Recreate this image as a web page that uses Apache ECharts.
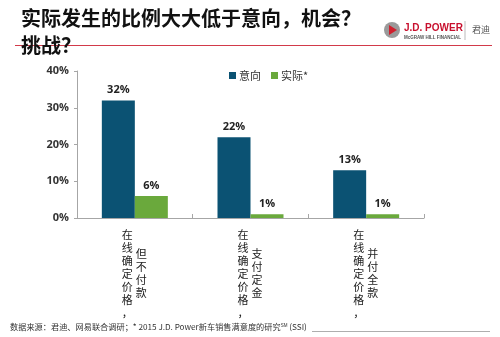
<!DOCTYPE html>
<html><head><meta charset="utf-8">
<script src="https://cdn.jsdelivr.net/npm/echarts@6/dist/echarts.min.js"></script>
<style>html,body{margin:0;padding:0;background:#fff}#c{width:500px;height:337px}</style>
</head><body><div id="c"></div>
<script>
const catCol1 = ['在线确定价格，', '在线确定价格，', '在线确定价格，'];
const catCol2 = ['但不付款', '支付定金', '并付全款'];
const intent = [32, 22, 13];
const actual = [6, 1, 1];
const seriesNames = ['意向', '实际*'];
const yTicks = [0, 10, 20, 30, 40];
const titleText = '实际发生的比例大大低于意向，机会？\n挑战？';
const sourceText = '数据来源：君迪、网易联合调研；* 2015 J.D. Power新车销售满意度的研究';

const vert = s => s.split('').join('\n');
const chart = echarts.init(document.getElementById('c'), null, {renderer: 'canvas'});
const CJK = '"Noto Sans CJK SC", sans-serif';
const base = {
  type: 'category', data: catCol1.map((_, i) => i),
  axisTick: {show: false}, axisLine: {show: false}, position: 'bottom'
};
chart.setOption({
  animation: false,
  title: {
    text: titleText, left: 16, top: 0,
    textStyle: {fontFamily: CJK, fontSize: 20, fontWeight: 'bold', color: '#111', lineHeight: 27}
  },
  legend: {
    data: seriesNames, left: 224, top: 65, itemWidth: 7, itemHeight: 7, itemGap: 10,
    icon: 'rect',
    textStyle: {fontFamily: CJK, fontSize: 11, color: '#333', padding: [0, 0, 0, -2]}
  },
  grid: {left: 77, right: 76, top: 71, bottom: 119},
  xAxis: [
    {type: 'category', data: catCol1, position: 'bottom',
      axisLine: {lineStyle: {color: '#a6a6a6', width: 1}},
      axisTick: {show: true, length: 4, inside: true, lineStyle: {color: '#a6a6a6'}},
      axisLabel: {formatter: v => vert(v), fontFamily: CJK, fontSize: 11, color: '#222',
        lineHeight: 13, margin: 10, padding: [0, 15, 0, 0]}},
    Object.assign({}, base, {data: catCol2,
      axisLabel: {formatter: v => vert(v), fontFamily: CJK, fontSize: 11, color: '#222',
        lineHeight: 13, margin: 29, padding: [0, 0, 0, 13]}})
  ],
  yAxis: {
    type: 'value', min: yTicks[0], max: yTicks[yTicks.length - 1], interval: 10,
    splitLine: {show: false},
    axisLine: {show: true, lineStyle: {color: '#a6a6a6'}},
    axisTick: {show: true, length: 3, lineStyle: {color: '#a6a6a6'}},
    axisLabel: {formatter: '{value}%', fontFamily: '"Open Sans", sans-serif', fontSize: 11,
      fontWeight: 'bold', color: '#333', margin: 8}
  },
  series: [
    {name: seriesNames[0], type: 'bar', data: intent, xAxisIndex: 0, barWidth: 33, barGap: '0%',
      itemStyle: {color: '#0b5273'},
      label: {show: true, position: 'top', formatter: '{c}%', fontFamily: '"Open Sans", sans-serif',
        fontSize: 11, fontWeight: 'bold', color: '#222', distance: 5}},
    {name: seriesNames[1], type: 'bar', data: actual, xAxisIndex: 0, barWidth: 33, barGap: '0%',
      itemStyle: {color: '#6aa93c'},
      label: {show: true, position: 'top', formatter: '{c}%', fontFamily: '"Open Sans", sans-serif',
        fontSize: 11, fontWeight: 'bold', color: '#222', distance: 5}}
  ],
  graphic: [
    {type: 'line', shape: {x1: 15, y1: 45.5, x2: 492, y2: 45.5}, style: {stroke: '#d23a4a', lineWidth: 1}},
    {type: 'circle', shape: {cx: 392, cy: 30, r: 8}, style: {fill: '#9a9a9a'}},
    {type: 'polygon', shape: {points: [[389, 25], [397, 30], [389, 35]]}, style: {fill: '#d0202e'}},
    {type: 'text', left: 404, top: 23, style: {text: 'J.D. POWER', fill: '#c8102e', font: 'bold 10px "Liberation Sans", Arial, sans-serif'}},
    {type: 'text', left: 404, top: 35, style: {text: 'McGRAW HILL FINANCIAL', fill: '#555', font: 'bold 4.5px "Liberation Sans", sans-serif'}},
    {type: 'line', shape: {x1: 465, y1: 21, x2: 465, y2: 40}, style: {stroke: '#bbb', lineWidth: 1}},
    {type: 'text', left: 472, top: 25, style: {text: '君迪', fill: '#555', font: '9px "Noto Sans CJK SC", sans-serif'}},
    {type: 'text', left: 10, top: 323, style: {rich: {a: {fontFamily: CJK, fontSize: 8.2, fill: '#333'}, s: {fontSize: 4.5, fill: '#333', verticalAlign: 'top'}, b: {fontFamily: CJK, fontSize: 8.2, fill: '#333'}},
      text: '{a|' + sourceText + '}{s|SM}{b| (SSI)}'}},
    {type: 'line', shape: {x1: 312, y1: 331.5, x2: 490, y2: 331.5}, style: {stroke: '#999', lineWidth: 0.8}}
  ]
});
</script></body></html>
